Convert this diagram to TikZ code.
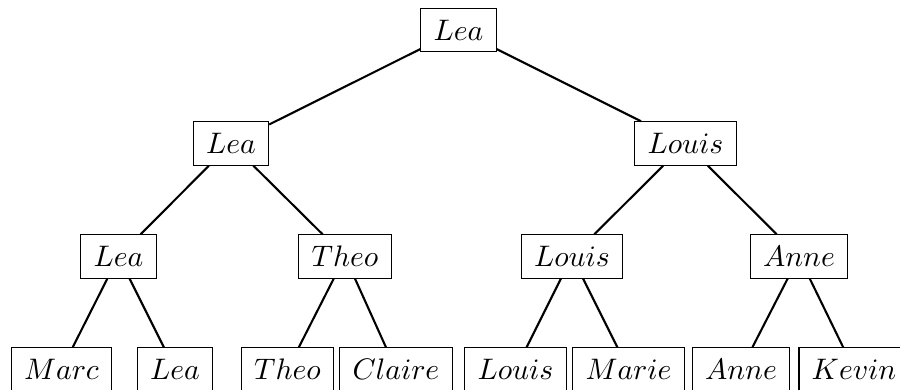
\documentclass[tikz,border=0pt]{standalone}
\begin{document}
\begin{tikzpicture}[x=0.337pt,y=-0.337pt,
  namebox/.style={draw, line width=0.4pt, inner xsep=4.3pt, inner ysep=3pt,
    minimum height=14.6pt, font=\normalsize},
  branch/.style={line width=0.7pt}]
  % visible window; the bottom row runs past its lower edge
  \clip (0,0) rectangle (900,389);

  % root
  \node[namebox] (r) at (458.5,30) {$Lea$};
  % first level
  \node[namebox] (a) at (231,143.5) {$Lea$};
  \node[namebox] (b) at (685.5,143.5) {$Louis$};
  % second level
  \node[namebox] (aa) at (118.5,256.5) {$Lea$};
  \node[namebox] (ab) at (345,256.5) {$Theo$};
  \node[namebox] (ba) at (572,256.5) {$Louis$};
  \node[namebox] (bb) at (799,256.5) {$Anne$};
  % leaves
  \node[namebox] (aaa) at (61.5,369.5) {$Marc$};
  \node[namebox] (aab) at (175,369.5) {$Lea$};
  \node[namebox] (aba) at (287.5,369.5) {$Theo$};
  \node[namebox] (abb) at (396,369.5) {$Claire$};
  \node[namebox] (baa) at (515.5,369.5) {$Louis$};
  \node[namebox] (bab) at (628.5,369.5) {$Marie$};
  \node[namebox] (bba) at (741,369.5) {$Anne$};
  \node[namebox] (bbb) at (854,369.5) {$Kevin$};

  % branches
  \draw[branch] (r) -- (a);
  \draw[branch] (r) -- (b);
  \draw[branch] (a) -- (aa);
  \draw[branch] (a) -- (ab);
  \draw[branch] (b) -- (ba);
  \draw[branch] (b) -- (bb);
  \draw[branch] (aa) -- (aaa);
  \draw[branch] (aa) -- (aab);
  \draw[branch] (ab) -- (aba);
  \draw[branch] (ab) -- (abb);
  \draw[branch] (ba) -- (baa);
  \draw[branch] (ba) -- (bab);
  \draw[branch] (bb) -- (bba);
  \draw[branch] (bb) -- (bbb);
\end{tikzpicture}
\end{document}
